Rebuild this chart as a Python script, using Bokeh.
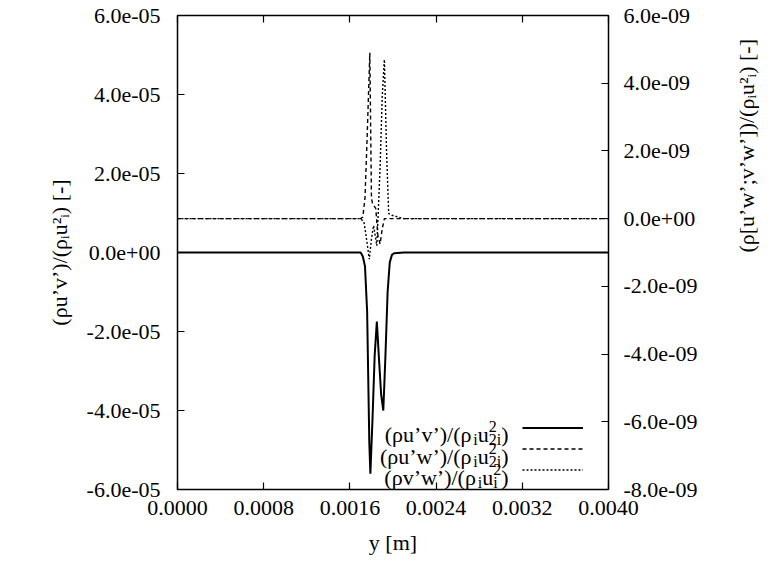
import math
from bokeh.plotting import figure
from bokeh.models import Range1d, LinearAxis, FixedTicker, Label, Legend, LegendItem
from bokeh.embed import file_html
from bokeh.resources import INLINE

# ---------------- data ----------------
X_TICKS = [0.0, 0.0008, 0.0016, 0.0024, 0.0032, 0.004]
X_TICK_LABELS = ["0.0000", "0.0008", "0.0016", "0.0024", "0.0032", "0.0040"]
Y_TICKS = [-6e-05, -4e-05, -2e-05, 0.0, 2e-05, 4e-05, 6e-05]
Y_TICK_LABELS = ["-6.0e-05", "-4.0e-05", "-2.0e-05", "0.0e+00", "2.0e-05", "4.0e-05", "6.0e-05"]
Y2_TICKS = [-8e-09, -6e-09, -4e-09, -2e-09, 0.0, 2e-09, 4e-09, 6e-09]
Y2_TICK_LABELS = ["-8.0e-09", "-6.0e-09", "-4.0e-09", "-2.0e-09", "0.0e+00", "2.0e-09", "4.0e-09", "6.0e-09"]

X_TITLE = "y [m]"
Y_TITLE = "(ρu’v’)/(ρᵢu²ᵢ) [-]"
Y2_TITLE = "(ρ[u’w’;v’w’])/(ρᵢu²ᵢ) [-]"

# (rho u'v')/(rho_i u_i^2)  [units of 1e-5], left axis
X_UV = [0.0, 0.0016, 0.00170, 0.00172, 0.00174, 0.00176, 0.00178, 0.00179, 0.00181,
        0.00183, 0.00185, 0.00187, 0.00189, 0.00191, 0.00193, 0.00195, 0.00197,
        0.00199, 0.00201, 0.0021, 0.004]
UV_E5 = [0.0, 0.0, 0.0, -0.1, -0.35, -1.5, -4.8, -5.6, -4.2,
         -2.6, -1.75, -2.7, -3.6, -4.0, -2.6, -1.0, -0.25,
         -0.06, -0.02, 0.0, 0.0]

# (rho u'w')/(rho_i u_i^2)  [units of 1e-9], right axis
X_UW = [0.0, 0.0016, 0.00170, 0.00172, 0.00174, 0.00176, 0.001785, 0.00180, 0.00181,
        0.00183, 0.00184, 0.00186, 0.00188, 0.00190, 0.00192, 0.0021, 0.004]
UW_E9 = [0.0, 0.0, 0.0, 0.05, 0.6, 2.4, 4.9, 0.6, 0.45,
         0.35, 0.3, -0.5, -0.75, -0.3, 0.0, 0.0, 0.0]

# (rho v'w')/(rho_i u_i^2)  [units of 1e-9], right axis
X_VW = [0.0, 0.0016, 0.00170, 0.00173, 0.00175, 0.00178, 0.00180, 0.00182, 0.00185,
        0.00188, 0.00190, 0.00192, 0.00194, 0.00196, 0.00199, 0.0021, 0.004]
VW_E9 = [0.0, 0.0, 0.0, -0.1, -0.5, -1.2, -0.6, -0.2, -0.8,
         1.5, 3.6, 4.7, 2.0, 0.15, 0.1, 0.0, 0.0]

FONT = "Liberation Serif"
FS = 22
SMALL = 16

# ---------------- figure ----------------
FL, FR, FT, FB = 177, 610, 15, 489
W_, H_ = 774, 565

p = figure(width=W_, height=H_, x_range=Range1d(0, 0.004), y_range=Range1d(-6e-05, 6e-05),
           output_backend="svg", toolbar_location=None,
           min_border_left=FL, min_border_right=W_ - FR, min_border_top=FT, min_border_bottom=H_ - FB,
           background_fill_color="white", border_fill_color="white")
p.grid.visible = False
p.outline_line_color = "black"
p.outline_line_width = 1.5
p.extra_y_ranges = {"y2": Range1d(-8e-09, 6e-09)}


def style_axis(ax, ticks, labels, standoff):
    ax.ticker = FixedTicker(ticks=ticks)
    if labels is not None:
        ax.major_label_overrides = dict(zip(ticks, labels))
    ax.major_tick_in = 7
    ax.major_tick_out = 0
    ax.major_tick_line_color = "black"
    ax.major_tick_line_width = 1.2
    ax.minor_tick_line_color = None
    ax.axis_line_color = None
    ax.major_label_text_font = FONT
    ax.major_label_text_font_size = f"{FS}px"
    ax.major_label_text_color = "black"
    ax.major_label_standoff = standoff
    ax.axis_label_text_font = FONT
    ax.axis_label_text_font_size = f"{FS}px"
    ax.axis_label_text_font_style = "normal"
    ax.axis_label_text_color = "black"


xax = p.xaxis[0]
style_axis(xax, X_TICKS, X_TICK_LABELS, 11)
xax.axis_label = X_TITLE
xax.axis_label_standoff = 12

yax = p.yaxis[0]
style_axis(yax, Y_TICKS, Y_TICK_LABELS, 17)
yax.axis_label = Y_TITLE
yax.axis_label_standoff = 12

rax = LinearAxis(y_range_name="y2")
style_axis(rax, Y2_TICKS, Y2_TICK_LABELS, 15)
rax.axis_label = Y2_TITLE
rax.axis_label_standoff = 46
rax.axis_label_orientation = math.pi / 2
p.add_layout(rax, "right")

tax = LinearAxis()
style_axis(tax, X_TICKS, None, 0)
tax.major_label_text_font_size = "0px"
tax.major_label_text_alpha = 0
p.add_layout(tax, "above")

# ---------------- curves ----------------
r_uw = p.line(X_UW, [v * 1e-9 for v in UW_E9], y_range_name="y2",
              line_color="black", line_width=1.4, line_dash="4 3")
r_vw = p.line(X_VW, [v * 1e-9 for v in VW_E9], y_range_name="y2",
              line_color="black", line_width=1.4, line_dash="2 2")
r_uv = p.line(X_UV, [v * 1e-5 for v in UV_E5],
              line_color="black", line_width=2)

# ---------------- legend samples (library legend, glyph only) ----------------
legend = Legend(items=[LegendItem(label=" ", renderers=[r_uv]),
                       LegendItem(label=" ", renderers=[r_uw]),
                       LegendItem(label=" ", renderers=[r_vw])],
                location=(522 - FL, FB - 480), glyph_width=61, glyph_height=21,
                label_height=21, label_width=0, label_standoff=0, spacing=0,
                padding=0, margin=0, border_line_color=None, background_fill_alpha=0,
                label_text_font_size="1px")
p.add_layout(legend)

# ---------------- legend texts with sub/superscripts ----------------
CW = {'(': 333, ')': 333, 'ρ': 540, 'u': 500, 'v': 500, 'w': 722, '’': 333, '/': 278,
      'i': 278, '2': 500, '[': 333, ']': 333, '-': 333, ' ': 250, ';': 278}
SUP, SUB = 8, 5


def tw(s, size):
    return sum(CW.get(c, 500) for c in s) * size / 1000.0


def seg_pieces(kind, t):
    if kind == "n":
        return [(t, FS, 0)], tw(t, FS)
    if kind == "sub":
        return [(t, SMALL, -SUB)], tw(t, SMALL)
    if kind == "sup":
        return [(t, SMALL, SUP)], tw(t, SMALL)
    sup, sub = t
    return [(sup, SMALL, SUP), (sub, SMALL, -SUB)], max(tw(sup, SMALL), tw(sub, SMALL))


def total_width(segs):
    return sum(seg_pieces(k, t)[1] for k, t in segs)


def rich(segs, x0, y0):
    a = 0.0
    for kind, t in segs:
        pieces, adv = seg_pieces(kind, t)
        for txt, fs, v in pieces:
            p.add_layout(Label(x=x0 + a - FL, y=FB - (y0 - v), x_units="screen", y_units="screen",
                               text=txt, text_font=FONT, text_font_size=f"{fs}px",
                               text_color="black", text_baseline="alphabetic",
                               text_align="left"))
        a += adv


LEG_ROWS = [
    [("n", "(ρu’v’)/(ρ"), ("sub", "i"), ("n", "u"), ("ss", ("2", "2i")), ("n", ")")],
    [("n", "(ρu’w’)/(ρ"), ("sub", "i"), ("n", "u"), ("ss", ("2", "2i")), ("n", ")")],
    [("n", "(ρv’w’)/(ρ"), ("sub", "i"), ("n", "u"), ("ss", ("2", "i")), ("n", ")")],
]
LEG_BASE = [434, 455.5, 477]
for segs, yb in zip(LEG_ROWS, LEG_BASE):
    rich(segs, 508 - total_width(segs), yb)

open("out.html", "w").write(file_html(p, INLINE))
